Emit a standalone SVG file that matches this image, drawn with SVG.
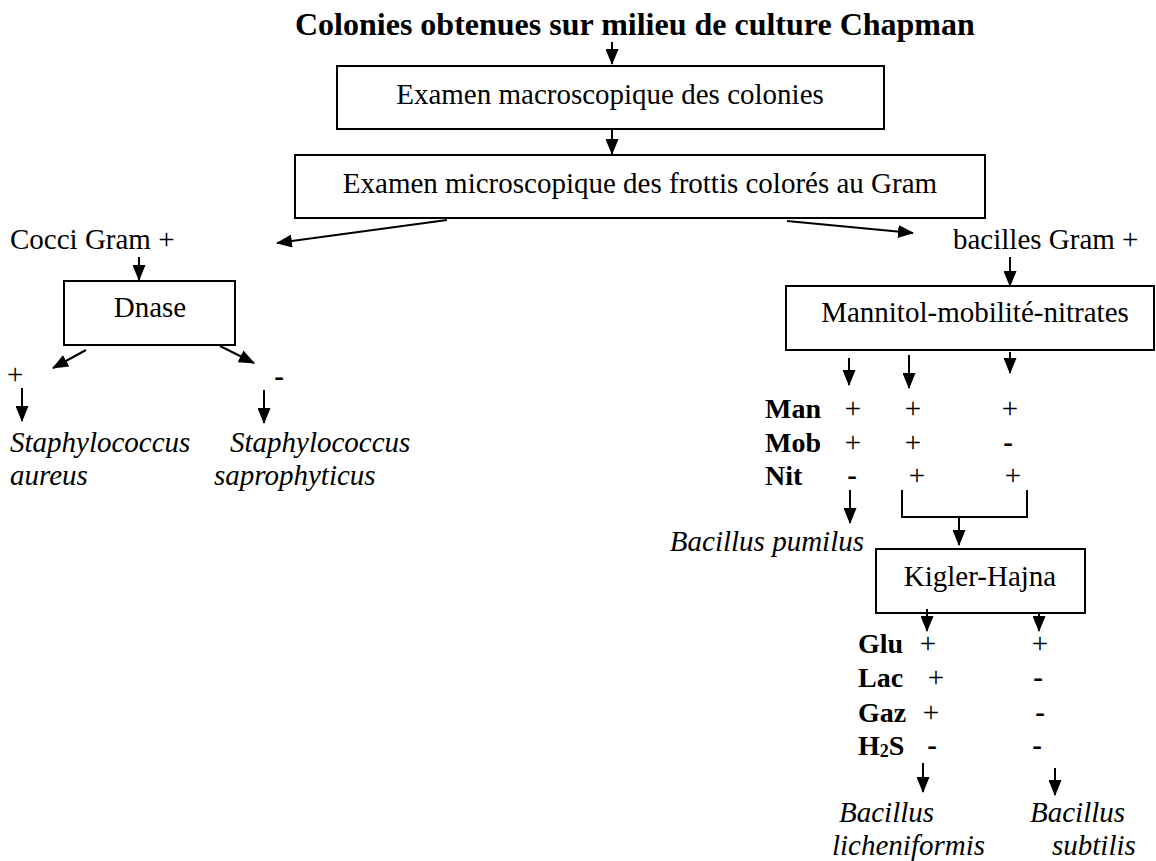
<svg xmlns="http://www.w3.org/2000/svg" width="1156" height="861" viewBox="0 0 1156 861">
<defs>
<marker id="ah" markerUnits="userSpaceOnUse" markerWidth="16" markerHeight="13" viewBox="0 0 16 13" refX="15" refY="6.5" orient="auto">
<path d="M0,0 L16,6.5 L0,13 z" fill="#000"/>
</marker>
<style>
text{font-family:"Liberation Serif","Times New Roman",serif;font-size:29px;fill:#000}
.t{font-weight:bold;font-size:32px}
.b{font-weight:bold;font-size:28px}
.i{font-style:italic}
.m{font-weight:bold;text-anchor:middle}
.p{text-anchor:middle}
.c{text-anchor:middle}
.box{fill:#fff;stroke:#000;stroke-width:2}
.bg{fill:#fff;stroke:none}
.conn line,.conn polyline{stroke:#000;stroke-width:2;fill:none}
.conn .a{marker-end:url(#ah)}
</style>
</defs>
<rect class="bg" x="0" y="0" width="1156" height="861"/>

<g id="title"><text class="t" x="295" y="35">Colonies obtenues sur milieu de culture Chapman</text></g>

<g id="macro"><rect class="box" x="337" y="66" width="547" height="63"/><text class="c" x="610" y="104">Examen macroscopique des colonies</text></g>
<g id="micro"><rect class="box" x="295" y="155" width="690" height="63"/><text class="c" x="640" y="193">Examen microscopique des frottis colorés au Gram</text></g>

<g id="cocci"><text x="10" y="249">Cocci Gram +</text></g>
<g id="bacilles"><text x="953" y="249">bacilles Gram +</text></g>

<g id="dnase"><rect class="box" x="64" y="281" width="171" height="64"/><text class="c" x="150" y="317">Dnase</text></g>
<g id="dn-plus"><text x="7" y="384">+</text></g>
<g id="dn-minus"><text class="m" x="279" y="386">-</text></g>
<g id="s-aureus"><text class="i" x="10" y="452">Staphylococcus</text><text class="i" x="10" y="485">aureus</text></g>
<g id="s-sapro"><text class="i" x="230" y="452">Staphylococcus</text><text class="i" x="214" y="485">saprophyticus</text></g>

<g id="mmn"><rect class="box" x="786" y="286" width="368" height="64"/><text class="c" x="975" y="322">Mannitol-mobilité-nitrates</text></g>
<g id="mmn-table">
<text class="b" x="765" y="418">Man</text>
<text class="b" x="765" y="452">Mob</text>
<text class="b" x="765" y="485">Nit</text>
<text class="p" x="853" y="418">+</text><text class="p" x="913" y="418">+</text><text class="p" x="1010" y="418">+</text>
<text class="p" x="853" y="452">+</text><text class="p" x="913" y="452">+</text><text class="m" x="1008" y="452">-</text>
<text class="m" x="852" y="485">-</text><text class="p" x="917" y="485">+</text><text class="p" x="1013" y="485">+</text>
</g>
<g id="pumilus"><text class="i" x="864" y="551" text-anchor="end">Bacillus pumilus</text></g>

<g id="kh"><rect class="box" x="876" y="549" width="209" height="64"/><text class="c" x="980" y="586">Kigler-Hajna</text></g>
<g id="kh-table">
<text class="b" x="858" y="653">Glu</text>
<text class="b" x="858" y="687">Lac</text>
<text class="b" x="858" y="722">Gaz</text>
<text class="b" x="858" y="755">H<tspan font-size="18" dy="2">2</tspan><tspan dy="-2">S</tspan></text>
<text class="p" x="928" y="653">+</text><text class="p" x="1040" y="653">+</text>
<text class="p" x="936" y="687">+</text><text class="m" x="1038" y="687">-</text>
<text class="p" x="931" y="722">+</text><text class="m" x="1040" y="722">-</text>
<text class="m" x="932" y="755">-</text><text class="m" x="1037" y="755">-</text>
</g>
<g id="licheniformis"><text class="i" x="839" y="822">Bacillus</text><text class="i" x="832" y="855">licheniformis</text></g>
<g id="subtilis"><text class="i" x="1030" y="822">Bacillus</text><text class="i" x="1052" y="855">subtilis</text></g>

<g id="connectors" class="conn">
<line class="a" x1="612" y1="42" x2="612" y2="64"/>
<line class="a" x1="612" y1="130" x2="612" y2="154"/>
<line class="a" x1="447" y1="220" x2="277" y2="243"/>
<line class="a" x1="787" y1="221" x2="913" y2="233"/>
<line class="a" x1="139" y1="257" x2="139" y2="280"/>
<line class="a" x1="1010" y1="257" x2="1010" y2="286"/>
<line class="a" x1="86" y1="350" x2="53" y2="368"/>
<line class="a" x1="220" y1="346" x2="254" y2="363"/>
<line class="a" x1="22" y1="388" x2="22" y2="421"/>
<line class="a" x1="264" y1="390" x2="264" y2="423"/>
<line class="a" x1="849" y1="358" x2="849" y2="385"/>
<line class="a" x1="909" y1="355" x2="909" y2="388"/>
<line class="a" x1="1010" y1="352" x2="1010" y2="373"/>
<line class="a" x1="850" y1="490" x2="850" y2="523"/>
<polyline points="902,490 902,517 1027,517 1027,490"/>
<line class="a" x1="959" y1="517" x2="959" y2="545"/>
<line class="a" x1="927" y1="609" x2="927" y2="631"/>
<line class="a" x1="1039" y1="613" x2="1039" y2="631"/>
<line class="a" x1="923" y1="763" x2="923" y2="792"/>
<line class="a" x1="1055" y1="768" x2="1055" y2="795"/>
</g>
</svg>
